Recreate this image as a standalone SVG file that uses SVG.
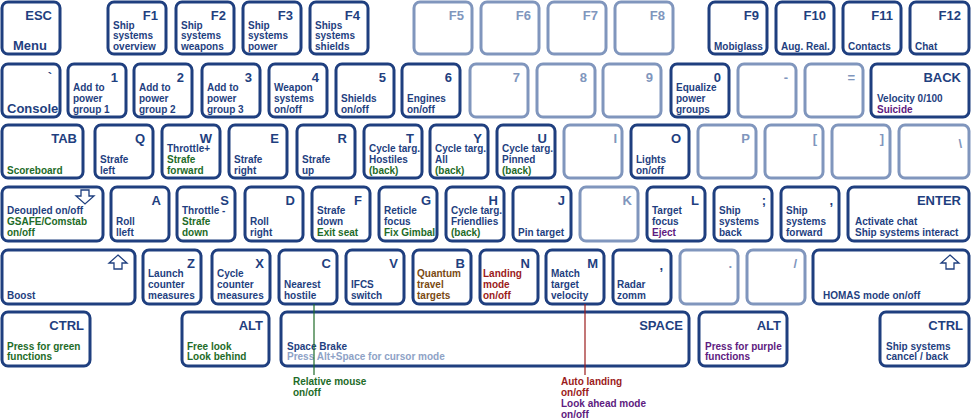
<svg xmlns="http://www.w3.org/2000/svg" width="972" height="420" viewBox="0 0 972 420">
<style>
.k{fill:#fff;stroke:#1f3f7f;stroke-width:3}
.kl{fill:#fff;stroke:#8096bd;stroke-width:3}
text{font-family:"Liberation Sans",Arial,sans-serif;font-weight:bold;font-size:10px;fill:#1f3f7f}
.h{font-size:13px;text-anchor:end}
.m{font-size:13px}
.hl{font-size:13px;text-anchor:end;fill:#8096bd}
.g{fill:#1e6b28}.p{fill:#5e1a80}.r{fill:#9b1b1b}.b{fill:#7a4a12}.lt{fill:#8ea2c6}
.ar{fill:#fff;stroke:#1f3f7f;stroke-width:1.3}
</style>
<rect width="972" height="420" fill="#fff"/>
<!-- Row 1 -->
<g id="esc"><rect class="k" x="2" y="2" width="58" height="52" rx="6"/><text class="h" x="52" y="20">ESC</text><text class="m" x="13" y="50">Menu</text></g>
<g id="f1"><rect class="k" x="108" y="2" width="58" height="52" rx="6"/><text class="h" x="158" y="20">F1</text><text x="113" y="29">Ship</text><text x="113" y="39">systems</text><text x="113" y="50">overview</text></g>
<g id="f2"><rect class="k" x="176" y="2" width="58" height="52" rx="6"/><text class="h" x="226" y="20">F2</text><text x="181" y="29">Ship</text><text x="181" y="39">systems</text><text x="181" y="50">weapons</text></g>
<g id="f3"><rect class="k" x="243" y="2" width="58" height="52" rx="6"/><text class="h" x="293" y="20">F3</text><text x="248" y="29">Ship</text><text x="248" y="39">systems</text><text x="248" y="50">power</text></g>
<g id="f4"><rect class="k" x="310" y="2" width="58" height="52" rx="6"/><text class="h" x="360" y="20">F4</text><text x="315" y="29">Ships</text><text x="315" y="39">systems</text><text x="315" y="50">shields</text></g>
<g id="f5"><rect class="kl" x="414" y="2" width="58" height="52" rx="6"/><text class="hl" x="464" y="20">F5</text></g>
<g id="f6"><rect class="kl" x="481" y="2" width="58" height="52" rx="6"/><text class="hl" x="531" y="20">F6</text></g>
<g id="f7"><rect class="kl" x="548" y="2" width="58" height="52" rx="6"/><text class="hl" x="598" y="20">F7</text></g>
<g id="f8"><rect class="kl" x="615" y="2" width="58" height="52" rx="6"/><text class="hl" x="665" y="20">F8</text></g>
<g id="f9"><rect class="k" x="709" y="2" width="58" height="52" rx="6"/><text class="h" x="759" y="20">F9</text><text x="714" y="50">Mobiglass</text></g>
<g id="f10"><rect class="k" x="776" y="2" width="58" height="52" rx="6"/><text class="h" x="826" y="20">F10</text><text x="781" y="50">Aug. Real.</text></g>
<g id="f11"><rect class="k" x="843" y="2" width="58" height="52" rx="6"/><text class="h" x="893" y="20">F11</text><text x="848" y="50">Contacts</text></g>
<g id="f12"><rect class="k" x="910" y="2" width="59" height="52" rx="6"/><text class="h" x="961" y="20">F12</text><text x="915" y="50">Chat</text></g>
<!-- Row 2 -->
<g id="grave"><rect class="k" x="2" y="64" width="58" height="53" rx="6"/><text class="h" x="52" y="82">`</text><text class="m" x="7" y="113">Console</text></g>
<g id="k1"><rect class="k" x="68" y="64" width="58" height="53" rx="6"/><text class="h" x="118" y="82">1</text><text x="73" y="91">Add to</text><text x="73" y="102">power</text><text x="73" y="113">group 1</text></g>
<g id="k2"><rect class="k" x="134" y="64" width="58" height="53" rx="6"/><text class="h" x="184" y="82">2</text><text x="139" y="91">Add to</text><text x="139" y="102">power</text><text x="139" y="113">group 2</text></g>
<g id="k3"><rect class="k" x="202" y="64" width="58" height="53" rx="6"/><text class="h" x="252" y="82">3</text><text x="207" y="91">Add to</text><text x="207" y="102">power</text><text x="207" y="113">group 3</text></g>
<g id="k4"><rect class="k" x="269" y="64" width="58" height="53" rx="6"/><text class="h" x="319" y="82">4</text><text x="274" y="91">Weapon</text><text x="274" y="102">systems</text><text x="274" y="113">on/off</text></g>
<g id="k5"><rect class="k" x="336" y="64" width="58" height="53" rx="6"/><text class="h" x="386" y="82">5</text><text x="341" y="102">Shields</text><text x="341" y="113">on/off</text></g>
<g id="k6"><rect class="k" x="402" y="64" width="58" height="53" rx="6"/><text class="h" x="452" y="82">6</text><text x="407" y="102">Engines</text><text x="407" y="113">on/off</text></g>
<g id="k7"><rect class="kl" x="470" y="64" width="58" height="53" rx="6"/><text class="hl" x="520" y="82">7</text></g>
<g id="k8"><rect class="kl" x="537" y="64" width="58" height="53" rx="6"/><text class="hl" x="587" y="82">8</text></g>
<g id="k9"><rect class="kl" x="603" y="64" width="58" height="53" rx="6"/><text class="hl" x="653" y="82">9</text></g>
<g id="k0"><rect class="k" x="671" y="64" width="58" height="53" rx="6"/><text class="h" x="721" y="82">0</text><text x="676" y="91">Equalize</text><text x="676" y="102">power</text><text x="676" y="113">groups</text></g>
<g id="minus"><rect class="kl" x="738" y="64" width="58" height="53" rx="6"/><text class="hl" x="788" y="82">-</text></g>
<g id="equal"><rect class="kl" x="805" y="64" width="58" height="53" rx="6"/><text class="hl" x="855" y="82">=</text></g>
<g id="back"><rect class="k" x="871" y="64" width="98" height="53" rx="6"/><text class="h" x="961" y="82">BACK</text><text x="877" y="102">Velocity 0/100</text><text class="p" x="877" y="113">Suicide</text></g>
<!-- Row 3 -->
<g id="tab"><rect class="k" x="2" y="125" width="81" height="53" rx="6"/><text class="h" x="77" y="143">TAB</text><text class="g" x="7" y="174">Scoreboard</text></g>
<g id="q"><rect class="k" x="95" y="125" width="58" height="53" rx="6"/><text class="h" x="145" y="143">Q</text><text x="100" y="163">Strafe</text><text x="100" y="174">left</text></g>
<g id="w"><rect class="k" x="162" y="125" width="58" height="53" rx="6"/><text class="h" x="212" y="143">W</text><text x="167" y="152">Throttle+</text><text class="g" x="167" y="163">Strafe</text><text class="g" x="167" y="174">forward</text></g>
<g id="e"><rect class="k" x="229" y="125" width="58" height="53" rx="6"/><text class="h" x="279" y="143">E</text><text x="234" y="163">Strafe</text><text x="234" y="174">right</text></g>
<g id="r"><rect class="k" x="297" y="125" width="58" height="53" rx="6"/><text class="h" x="347" y="143">R</text><text x="302" y="163">Strafe</text><text x="302" y="174">up</text></g>
<g id="t"><rect class="k" x="364" y="125" width="58" height="53" rx="6"/><text class="h" x="414" y="143">T</text><text x="369" y="152">Cycle targ.</text><text x="369" y="163">Hostiles</text><text class="g" x="369" y="174">(back)</text></g>
<g id="y"><rect class="k" x="430" y="125" width="58" height="53" rx="6"/><text class="h" x="482" y="143">Y</text><text x="435" y="152">Cycle targ.</text><text x="435" y="163">All</text><text class="g" x="435" y="174">(back)</text></g>
<g id="u"><rect class="k" x="497" y="125" width="58" height="53" rx="6"/><text class="h" x="547" y="143">U</text><text x="502" y="152">Cycle targ.</text><text x="502" y="163">Pinned</text><text class="g" x="502" y="174">(back)</text></g>
<g id="i"><rect class="kl" x="564" y="125" width="58" height="53" rx="6"/><text class="hl" x="617" y="143">I</text></g>
<g id="o"><rect class="k" x="631" y="125" width="58" height="53" rx="6"/><text class="h" x="681" y="143">O</text><text x="636" y="163">Lights</text><text x="636" y="174">on/off</text></g>
<g id="p"><rect class="kl" x="698" y="125" width="58" height="53" rx="6"/><text class="hl" x="750" y="143">P</text></g>
<g id="lbr"><rect class="kl" x="765" y="125" width="58" height="53" rx="6"/><text class="hl" x="817" y="143">[</text></g>
<g id="rbr"><rect class="kl" x="832" y="125" width="58" height="53" rx="6"/><text class="hl" x="884" y="143">]</text></g>
<g id="bslash"><rect class="kl" x="899" y="125" width="70" height="53" rx="6"/><text class="hl" x="962" y="148">\</text></g>
<!-- Row 4 -->
<g id="caps"><rect class="k" x="2" y="187" width="101" height="54" rx="6"/><path class="ar" d="M81 190h8v6h5l-9 8l-9-8h5z"/><text x="7" y="214">Deoupled on/off</text><text class="g" x="7" y="225">GSAFE/Comstab</text><text class="g" x="7" y="236">on/off</text></g>
<g id="a"><rect class="k" x="111" y="187" width="58" height="54" rx="6"/><text class="h" x="161" y="205">A</text><text x="116" y="225">Roll</text><text x="116" y="236">lleft</text></g>
<g id="s"><rect class="k" x="177" y="187" width="58" height="54" rx="6"/><text class="h" x="229" y="205">S</text><text x="182" y="214">Throttle -</text><text class="g" x="182" y="225">Strafe</text><text class="g" x="182" y="236">down</text></g>
<g id="d"><rect class="k" x="245" y="187" width="58" height="54" rx="6"/><text class="h" x="295" y="205">D</text><text x="250" y="225">Roll</text><text x="250" y="236">right</text></g>
<g id="f"><rect class="k" x="312" y="187" width="58" height="54" rx="6"/><text class="h" x="362" y="205">F</text><text x="317" y="214">Strafe</text><text x="317" y="225">down</text><text class="g" x="317" y="236">Exit seat</text></g>
<g id="gk"><rect class="k" x="379" y="187" width="58" height="54" rx="6"/><text class="h" x="431" y="205">G</text><text x="384" y="214">Reticle</text><text x="384" y="225">focus</text><text class="g" x="384" y="236">Fix Gimbal</text></g>
<g id="hk"><rect class="k" x="446" y="187" width="58" height="54" rx="6"/><text class="h" x="498" y="205">H</text><text x="451" y="214">Cycle targ.</text><text x="451" y="225">Friendlies</text><text class="g" x="451" y="236">(back)</text></g>
<g id="j"><rect class="k" x="513" y="187" width="58" height="54" rx="6"/><text class="h" x="565" y="205">J</text><text x="518" y="236">Pin target</text></g>
<g id="kk"><rect class="kl" x="580" y="187" width="58" height="54" rx="6"/><text class="hl" x="632" y="205">K</text></g>
<g id="l"><rect class="k" x="647" y="187" width="58" height="54" rx="6"/><text class="h" x="699" y="205">L</text><text x="652" y="214">Target</text><text x="652" y="225">focus</text><text class="p" x="652" y="236">Eject</text></g>
<g id="semi"><rect class="k" x="714" y="187" width="58" height="54" rx="6"/><text class="h" x="766" y="205">;</text><text x="719" y="214">Ship</text><text x="719" y="225">systems</text><text x="719" y="236">back</text></g>
<g id="quote"><rect class="k" x="781" y="187" width="58" height="54" rx="6"/><text class="h" x="833" y="205">,</text><text x="786" y="214">Ship</text><text x="786" y="225">systems</text><text x="786" y="236">forward</text></g>
<g id="enter"><rect class="k" x="848" y="187" width="121" height="54" rx="6"/><text class="h" x="961" y="205">ENTER</text><text x="855" y="225">Activate chat</text><text x="855" y="236">Ship systems interact</text></g>
<!-- Row 5 -->
<g id="lshift"><rect class="k" x="2" y="250" width="133" height="54" rx="6"/><path class="ar" d="M118 255l9 8h-5v6h-8v-6h-5z"/><text x="7" y="299">Boost</text></g>
<g id="z"><rect class="k" x="143" y="250" width="58" height="54" rx="6"/><text class="h" x="195" y="268">Z</text><text x="148" y="277">Launch</text><text x="148" y="288">counter</text><text x="148" y="299">measures</text></g>
<g id="x"><rect class="k" x="212" y="250" width="58" height="54" rx="6"/><text class="h" x="264" y="268">X</text><text x="217" y="277">Cycle</text><text x="217" y="288">counter</text><text x="217" y="299">measures</text></g>
<g id="c"><rect class="k" x="279" y="250" width="58" height="54" rx="6"/><text class="h" x="331" y="268">C</text><text x="284" y="288">Nearest</text><text x="284" y="299">hostile</text></g>
<g id="v"><rect class="k" x="346" y="250" width="58" height="54" rx="6"/><text class="h" x="398" y="268">V</text><text x="351" y="288">IFCS</text><text x="351" y="299">switch</text></g>
<g id="bk"><rect class="k" x="413" y="250" width="58" height="54" rx="6"/><text class="h" x="465" y="268">B</text><text class="b" x="417" y="277">Quantum</text><text class="b" x="417" y="288">travel</text><text class="b" x="417" y="299">targets</text></g>
<g id="n"><rect class="k" x="480" y="250" width="58" height="54" rx="6"/><text class="h" x="530" y="268">N</text><text class="r" x="483" y="277">Landing</text><text class="r" x="483" y="288">mode</text><text class="r" x="483" y="299">on/off</text></g>
<g id="mk"><rect class="k" x="546" y="250" width="58" height="54" rx="6"/><text class="h" x="598" y="268">M</text><text x="551" y="277">Match</text><text x="551" y="288">target</text><text x="551" y="299">velocity</text></g>
<g id="comma"><rect class="k" x="613" y="250" width="58" height="54" rx="6"/><text class="h" x="663" y="270">,</text><text x="617" y="288">Radar</text><text x="617" y="299">zomm</text></g>
<g id="period"><rect class="kl" x="680" y="250" width="58" height="54" rx="6"/><text class="hl" x="732" y="268">.</text></g>
<g id="slash"><rect class="kl" x="747" y="250" width="58" height="54" rx="6"/><text class="hl" x="797" y="268">/</text></g>
<g id="rshift"><rect class="k" x="813" y="250" width="156" height="54" rx="6"/><path class="ar" d="M950 255l9 8h-5v6h-8v-6h-5z"/><text x="823" y="299">HOMAS mode on/off</text></g>
<!-- Row 6 -->
<g id="lctrl"><rect class="k" x="2" y="312" width="88" height="54" rx="6"/><text class="h" x="84" y="330">CTRL</text><text class="g" x="7" y="350">Press for green</text><text class="g" x="7" y="360">functions</text></g>
<g id="lalt"><rect class="k" x="182" y="312" width="87" height="54" rx="6"/><text class="h" x="263" y="330">ALT</text><text class="g" x="187" y="350">Free look</text><text class="g" x="187" y="360">Look behind</text></g>
<g id="space"><rect class="k" x="281" y="312" width="408" height="54" rx="6"/><text class="h" x="683" y="330">SPACE</text><text x="287" y="350">Space Brake</text><text class="lt" x="287" y="360">Press Alt+Space for cursor mode</text></g>
<g id="ralt"><rect class="k" x="699" y="312" width="88" height="54" rx="6"/><text class="h" x="781" y="330">ALT</text><text class="p" x="705" y="350">Press for purple</text><text class="p" x="705" y="360">functions</text></g>
<g id="rctrl"><rect class="k" x="880" y="312" width="89" height="54" rx="6"/><text class="h" x="963" y="330">CTRL</text><text x="886" y="350">Ship systems</text><text x="886" y="360">cancel / back</text></g>
<!-- Connectors -->
<g id="connectors">
<line x1="314" y1="304" x2="314" y2="375" stroke="#1e6b28" stroke-width="1.2"/>
<line x1="585" y1="304" x2="585" y2="375" stroke="#9b1b1b" stroke-width="1.2"/>
</g>
<g id="notes">
<text class="g" x="293" y="385">Relative mouse</text><text class="g" x="293" y="396">on/off</text>
<text class="r" x="561" y="385">Auto landing</text><text class="r" x="561" y="396">on/off</text>
<text class="p" x="561" y="407">Look ahead mode</text><text class="p" x="561" y="418">on/off</text>
</g>
</svg>
